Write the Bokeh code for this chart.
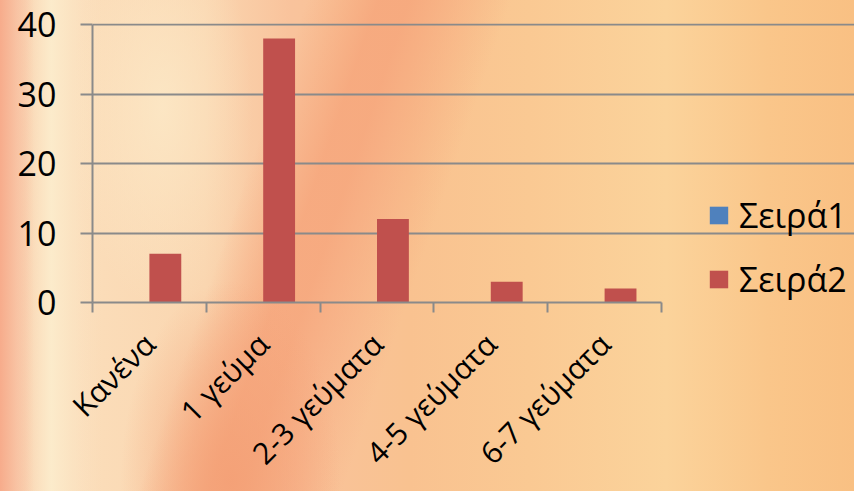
import math
from bokeh.plotting import figure
from bokeh.models import ColumnDataSource, FixedTicker, Legend, LegendItem
from bokeh.transform import dodge
from bokeh.embed import file_html
from bokeh.resources import INLINE

categories = ["Κανένα", "1 γεύμα", "2-3 γεύματα", "4-5 γεύματα", "6-7 γεύματα"]
series1 = [0, 0, 0, 0, 0]
series2 = [7, 38, 12, 3, 2]
series_names = ["Σειρά1", "Σειρά2"]
y_ticks = [0, 10, 20, 30, 40]

FONT = "Open Sans"
GRID = "#8a8a8a"

n = len(categories)
centers = [i + 0.5 for i in range(n)]
source = ColumnDataSource(dict(x=centers, s1=series1, s2=series2))

# the frame runs to the right edge so the legend sits inside it;
# grid and axis are bounded to the category span
LEFT, PLOT_RIGHT, W = 92, 661, 854
x_end = n * (W - LEFT) / (PLOT_RIGHT - LEFT)

p = figure(width=W, height=491, x_range=(0, x_end), y_range=(0, 40.15),
           output_backend="svg", toolbar_location=None,
           min_border_left=LEFT, min_border_right=0, min_border_top=23,
           min_border_bottom=189)
p.background_fill_color = None
p.border_fill_color = None
p.outline_line_color = None

# warm textured backdrop
p.styles = {
    "background": ", ".join([
        "linear-gradient(90deg, rgba(247,170,138,0.95) 0%, rgba(248,190,160,0.6) 2%, rgba(248,190,160,0) 4%)",
        "linear-gradient(90deg, rgba(252,238,206,0) 2%, rgba(252,238,206,0.9) 6%, rgba(252,238,206,0) 12%)",
        "radial-gradient(ellipse 110px 200px at 27% 98%, rgba(244,160,118,0.9), rgba(244,160,118,0) 100%)",
        "radial-gradient(ellipse 90px 200px at 19% 22%, rgba(252,232,198,0.85), rgba(252,232,198,0) 100%)",
        "linear-gradient(109deg, rgba(246,166,124,0) 30%, rgba(246,166,124,0.85) 37%,"
        " rgba(246,166,124,0.85) 40%, rgba(246,166,124,0) 50%)",
        "linear-gradient(90deg, #f8c8a6 0%, #fbdcb8 12%, #fad6b0 24%, #f9c39c 34%, #f9c290 48%,"
        " #fac993 62%, #fbd39b 78%, #fac68a 90%, #f9c083 100%)",
    ])
}

r1 = p.vbar(x=dodge("x", -0.14, range=p.x_range), top="s1", width=0.28, source=source,
            fill_color="#4f81bd", line_color=None)
r2 = p.vbar(x=dodge("x", 0.14, range=p.x_range), top="s2", width=0.28, source=source,
            fill_color="#c0504d", line_color=None)

# y axis and horizontal grid
p.yaxis.ticker = FixedTicker(ticks=y_ticks)
p.yaxis.axis_line_color = GRID
p.yaxis.axis_line_width = 2
p.yaxis.major_tick_line_color = GRID
p.yaxis.major_tick_line_width = 2
p.yaxis.major_tick_out = 12
p.yaxis.major_tick_in = 0
p.yaxis.minor_tick_line_color = None
p.yaxis.major_label_text_font = FONT
p.yaxis.major_label_text_font_size = "34px"
p.yaxis.major_label_text_color = "#000000"
p.yaxis.major_label_standoff = 24
p.yaxis.bounds = (0, 40)
p.ygrid.ticker = FixedTicker(ticks=y_ticks)
p.ygrid.grid_line_color = GRID
p.ygrid.grid_line_width = 2
p.ygrid.bounds = (0, n)
p.xgrid.grid_line_color = None

# x axis: labels at category centres, tick marks between categories
p.xaxis.ticker = FixedTicker(ticks=centers, minor_ticks=list(range(n + 1)))
p.xaxis.major_label_overrides = {c: name for c, name in zip(centers, categories)}
p.xaxis.major_label_orientation = math.pi / 4
p.xaxis.major_label_text_font = FONT
p.xaxis.major_label_text_font_size = "30px"
p.xaxis.major_label_text_color = "#000000"
p.xaxis.major_label_standoff = 26
p.xaxis.axis_line_color = GRID
p.xaxis.axis_line_width = 2
p.xaxis.bounds = (0, n)
p.xaxis.major_tick_line_color = None
p.xaxis.minor_tick_line_color = GRID
p.xaxis.minor_tick_line_width = 2
p.xaxis.minor_tick_out = 10
p.xaxis.minor_tick_in = 0

legend = Legend(items=[LegendItem(label=series_names[0], renderers=[r1]),
                       LegendItem(label=series_names[1], renderers=[r2])],
                location=(615, 0), orientation="vertical")
legend.background_fill_color = None
legend.border_line_color = None
legend.margin = 0
legend.padding = 0
legend.spacing = 18
legend.glyph_width = 23
legend.glyph_height = 22
legend.label_height = 40
legend.label_standoff = 9
legend.label_text_font = FONT
legend.label_text_font_size = "34px"
legend.label_text_color = "#000000"
p.add_layout(legend, "center")

open("out.html", "w").write(file_html(p, INLINE))
